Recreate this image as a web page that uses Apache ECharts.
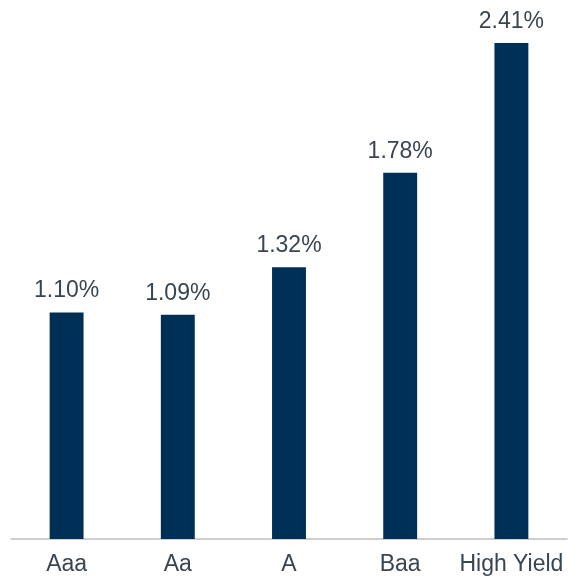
<!DOCTYPE html>
<html>
<head>
<meta charset="utf-8">
<script src="https://cdn.jsdelivr.net/npm/echarts@6/dist/echarts.min.js"></script>
<style>
html,body{margin:0;padding:0;background:#fff;}
#c{width:582px;height:580px;}
</style>
</head>
<body>
<div id="c"></div>
<script>
const categories = ['Aaa', 'Aa', 'A', 'Baa', 'High Yield'];
const values = [1.10, 1.09, 1.32, 1.78, 2.41];

const chart = echarts.init(document.getElementById('c'), null, {renderer: 'canvas'});
chart.setOption({
  animation: false,
  grid: {left: 11, right: 15, top: 24.5, bottom: 41, containLabel: false},
  xAxis: {
    type: 'category',
    data: categories,
    axisLine: {show: true, lineStyle: {color: '#BFBFBF', width: 1.5}},
    axisTick: {show: false},
    axisLabel: {interval: 0, color: '#3A4552', fontSize: 23, fontFamily: 'Liberation Sans, Arial, sans-serif', margin: 14}
  },
  yAxis: {
    type: 'value', min: 0, max: 2.5,
    show: false,
    splitLine: {show: false}
  },
  series: [{
    type: 'bar',
    data: values,
    barWidth: '30.5%',
    itemStyle: {color: '#002F56'},
    label: {
      show: true, position: 'top', distance: 10,
      color: '#3A4552', fontSize: 23, fontFamily: 'Liberation Sans, Arial, sans-serif',
      formatter: p => p.value.toFixed(2) + '%'
    }
  }]
});
</script>
</body>
</html>
